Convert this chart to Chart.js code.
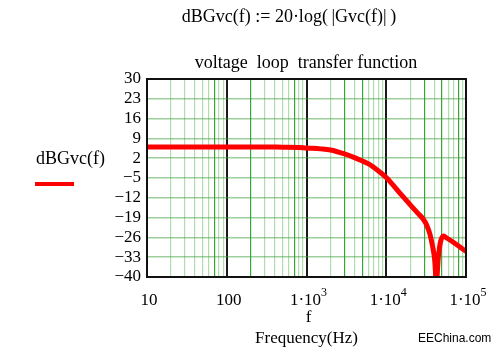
<!DOCTYPE html>
<html>
<head>
<meta charset="utf-8">
<script src="https://cdn.jsdelivr.net/npm/chart.js@4/dist/chart.umd.min.js"></script>
<style>
html,body{margin:0;padding:0;background:#fff;}
#wrap{width:495px;height:351px;position:relative;}
</style>
</head>
<body>
<div id="wrap"><canvas id="c" width="495" height="351"></canvas></div>
<script>
// Data
const freqHz = [10, 30, 100, 300, 500, 800, 1000, 1500, 2000, 3000, 4000, 5000, 6000, 8000, 10000, 15000, 20000, 25000, 29000, 32000, 35000, 38000, 40500, 42500, 45000, 48000, 52000, 58000, 70000, 85000, 100000];
const dBGvc  = [6, 6, 6, 6, 5.9, 5.8, 5.6, 5.3, 4.9, 3.5, 2.2, 1, 0, -2.5, -4.8, -10.5, -14.5, -17.5, -19.5, -21.5, -24.5, -29, -34, -42, -33, -27.5, -25.5, -26.3, -27.8, -29.5, -31];
const yTickValues = [-40, -33, -26, -19, -12, -5, 2, 9, 16, 23, 30];
const xDecadeLabels = [
  {value: 10, base: '10', exp: ''},
  {value: 100, base: '100', exp: ''},
  {value: 1000, base: '1\u00b710', exp: '3'},
  {value: 10000, base: '1\u00b710', exp: '4'},
  {value: 100000, base: '1\u00b710', exp: '5'}
];
const titleText = 'dBGvc(f) := 20\u00b7log(\u2009|Gvc(f)|\u2009)';
const subtitleText = 'voltage  loop  transfer function';
const yLabelText = 'dBGvc(f)';
const xLabel1 = 'f';
const xLabel2 = 'Frequency(Hz)';
const watermark = 'EEChina.com';

const SERIF = '"Liberation Serif", "Times New Roman", serif';

// minor log grid positions
const xGridTicks = [];
for (let e = 1; e <= 4; e++) {
  for (let m = 1; m <= 9; m++) xGridTicks.push(m * Math.pow(10, e));
}
xGridTicks.push(100000);
const darkMinor = [70, 200, 700, 3000, 5000, 30000, 50000, 80000];

const points = freqHz.map((f, i) => ({x: f, y: dBGvc[i]}));

const textPlugin = {
  id: 'texts',
  afterDraw(chart) {
    const ctx = chart.ctx;
    const a = chart.chartArea;
    const xs = chart.scales.x;
    ctx.save();
    // frame
    ctx.strokeStyle = '#111';
    ctx.lineWidth = 2;
    ctx.strokeRect(a.left, a.top, a.right - a.left, a.bottom - a.top);
    ctx.fillStyle = '#000';
    ctx.textBaseline = 'middle';
    // title
    ctx.font = '18px ' + SERIF;
    ctx.textAlign = 'center';
    ctx.fillText(titleText, 289, 17);
    ctx.font = '18px ' + SERIF;
    ctx.fillText(subtitleText, 306, 63);
    // x tick labels with superscripts
    xDecadeLabels.forEach(l => {
      const px = xs.getPixelForValue(l.value);
      ctx.font = '17px ' + SERIF;
      const wb = ctx.measureText(l.base).width;
      ctx.font = '12px ' + SERIF;
      const we = l.exp ? ctx.measureText(l.exp).width : 0;
      const start = px - (wb + we) / 2 + 2;
      ctx.textAlign = 'left';
      ctx.font = '17px ' + SERIF;
      ctx.fillText(l.base, start, 301);
      if (l.exp) {
        ctx.font = '12px ' + SERIF;
        ctx.fillText(l.exp, start + wb, 293);
      }
    });
    // axis titles
    ctx.textAlign = 'center';
    ctx.font = '17px ' + SERIF;
    const cx = (a.left + a.right) / 2;
    ctx.fillText(xLabel1, cx + 2, 318);
    ctx.fillText(xLabel2, cx, 339);
    ctx.textAlign = 'left';
    ctx.font = '18px ' + SERIF;
    ctx.fillText(yLabelText, 36, 159);
    // legend sample
    ctx.strokeStyle = '#ff0000';
    ctx.lineWidth = 4;
    ctx.beginPath();
    ctx.moveTo(35, 184);
    ctx.lineTo(74, 184);
    ctx.stroke();
    // watermark
    ctx.font = '12px "Liberation Sans", Arial, sans-serif';
    ctx.textAlign = 'left';
    ctx.fillStyle = '#000';
    ctx.fillText(watermark, 418, 339);
    ctx.restore();
  }
};

new Chart(document.getElementById('c'), {
  type: 'line',
  data: {
    datasets: [{
      data: points,
      borderColor: '#ff0000',
      borderWidth: 5,
      pointRadius: 0,
      cubicInterpolationMode: 'monotone',
      fill: false
    }]
  },
  options: {
    responsive: false,
    animation: false,
    devicePixelRatio: 1,
    layout: {padding: {top: 79, right: 29, left: 0, bottom: 0}},
    plugins: {legend: {display: false}, tooltip: {enabled: false}, title: {display: false}},
    scales: {
      x: {
        type: 'logarithmic',
        min: 10, max: 100000,
        afterBuildTicks: s => { s.ticks = xGridTicks.map(v => ({value: v})); },
        afterFit: s => { s.height = 74; },
        ticks: {display: false, autoSkip: false},
        border: {display: true, color: '#111', width: 2},
        grid: {
          drawTicks: false,
          color: c => {
            const v = c.tick ? c.tick.value : 0;
            if (v === 10 || v === 100000) return 'rgba(0,0,0,0)';
            if (v === 100 || v === 1000 || v === 10000) return '#1a1a1a';
            if (darkMinor.includes(v)) return 'rgba(20,150,20,0.85)';
            return 'rgba(60,170,60,0.4)';
          },
          lineWidth: c => {
            const v = c.tick ? c.tick.value : 0;
            if (v === 100 || v === 1000 || v === 10000) return 2;
            return 1.2;
          }
        }
      },
      y: {
        min: -40, max: 30,
        afterBuildTicks: s => { s.ticks = yTickValues.map(v => ({value: v})); },
        afterFit: s => { s.width = 147; },
        ticks: {
          color: '#000',
          autoSkip: false,
          font: {family: SERIF, size: 17},
          padding: 6,
          callback: v => String(v).replace('-', '\u2212')
        },
        border: {display: true, color: '#111', width: 2},
        grid: {
          drawTicks: false,
          color: 'rgba(60,160,60,0.5)',
          lineWidth: 1.5
        }
      }
    }
  },
  plugins: [textPlugin]
});
</script>
</body>
</html>
